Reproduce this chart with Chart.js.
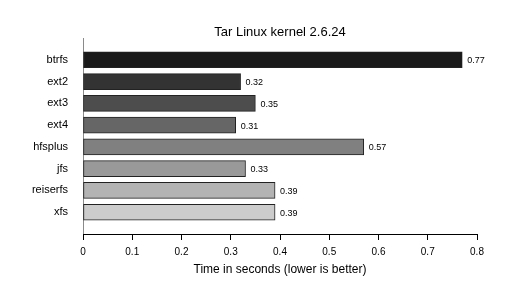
<!DOCTYPE html>
<html>
<head>
<meta charset="utf-8">
<script src="https://cdn.jsdelivr.net/npm/chart.js@4"></script>
<style>
  html, body { margin: 0; padding: 0; background: #fff; }
  #wrap { width: 509px; height: 293px; }
</style>
</head>
<body>
<div id="wrap"><canvas id="tarCanvas" width="509" height="293"></canvas></div>
<script>
// Datos
const fsNames = ['btrfs', 'ext2', 'ext3', 'ext4', 'hfsplus', 'jfs', 'reiserfs', 'xfs'];
const tarTimes = [0.77, 0.32, 0.35, 0.31, 0.57, 0.33, 0.39, 0.39];
const chartTitle = 'Tar Linux kernel 2.6.24';
const xAxisTitle = 'Time in seconds (lower is better)';

// Estilos
const barColors = ['#1a1a1a', '#333333', '#4d4d4d', '#666666', '#808080', '#999999', '#b3b3b3', '#cccccc'];
const FONT = '"Liberation Sans", Arial, Helvetica, sans-serif';

// Título centrado sobre el área de la gráfica + etiquetas de valor
const overlayPlugin = {
    id: 'overlay',
    afterDatasetsDraw(chart) {
        const ctx = chart.ctx;
        const area = chart.chartArea;
        ctx.save();
        ctx.fillStyle = '#000';
        ctx.font = '13px ' + FONT;
        ctx.textAlign = 'center';
        ctx.textBaseline = 'middle';
        ctx.fillText(chartTitle, (area.left + area.right) / 2, 32);

        ctx.font = '9px ' + FONT;
        ctx.textAlign = 'left';
        chart.getDatasetMeta(0).data.forEach((bar, i) => {
            ctx.fillText(tarTimes[i].toFixed(2), bar.x + 5, bar.y + 1);
        });
        ctx.restore();
    }
};

new Chart(document.getElementById('tarCanvas'), {
    type: 'bar',
    data: {
        datasets: [{
            data: fsNames.map((n, i) => ({ x: tarTimes[i], y: i })),
            backgroundColor: barColors,
            borderColor: '#222',
            borderWidth: 1,
            borderSkipped: false,
            barThickness: 16
        }]
    },
    options: {
        indexAxis: 'y',
        responsive: false,
        animation: false,
        layout: { padding: { top: 38, right: 32, bottom: 0, left: 0 } },
        plugins: {
            legend: { display: false },
            title: { display: false },
            tooltip: { enabled: false }
        },
        scales: {
            y: {
                type: 'linear',
                min: -1,
                max: 8,
                reverse: true,
                offset: false,
                afterFit: scale => { scale.width = 83; },
                grid: { display: false, drawTicks: false, offset: false },
                border: { display: true, color: '#8a8a8a', width: 1 },
                ticks: {
                    stepSize: 1,
                    autoSkip: false,
                    padding: 15,
                    color: '#000',
                    font: { family: FONT, size: 11 },
                    callback: v => fsNames[v] ?? ''
                }
            },
            x: {
                type: 'linear',
                min: 0,
                max: 0.8,
                afterFit: scale => { scale.height = 59; },
                grid: {
                    display: true,
                    drawOnChartArea: false,
                    drawTicks: true,
                    tickLength: 6,
                    color: '#000'
                },
                border: { display: true, color: '#000', width: 1 },
                ticks: {
                    stepSize: 0.1,
                    padding: 6,
                    color: '#000',
                    font: { family: FONT, size: 10 },
                    callback: v => String(Number(v.toFixed(1)))
                },
                title: {
                    display: true,
                    text: xAxisTitle,
                    color: '#000',
                    font: { family: FONT, size: 12 },
                    padding: { top: 0, bottom: 16 }
                }
            }
        }
    },
    plugins: [overlayPlugin]
});
</script>
</body>
</html>
